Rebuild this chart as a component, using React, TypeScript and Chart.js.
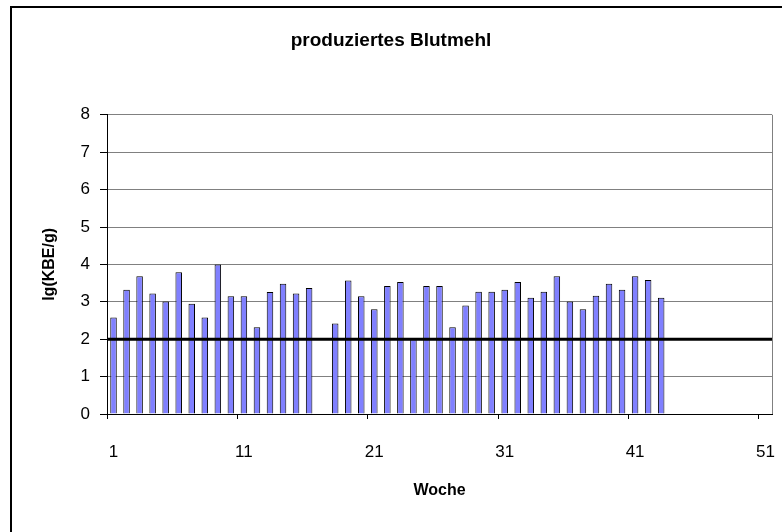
import React, { useEffect, useRef } from "react";
import { Chart, registerables } from "chart.js";

Chart.register(...registerables);

const weeks: string[] = Array.from({ length: 51 }, (_, i) => String(i + 1));

const cfuValues: (number | null)[] = [
  2.58, 3.32, 3.68, 3.22, 3.01, 3.79, 2.95, 2.58, 4.0, 3.15,
  3.15, 2.32, 3.26, 3.48, 3.22, 3.37, null, 2.42, 3.57, 3.15,
  2.8, 3.42, 3.53, 2.0, 3.42, 3.42, 2.32, 2.9, 3.27, 3.27,
  3.32, 3.53, 3.11, 3.27, 3.68, 3.01, 2.8, 3.16, 3.48, 3.32,
  3.68, 3.58, 3.11,
];

const limitValue = 2;
const limitPoints = weeks.map((w) => ({ x: Number(w), y: limitValue }));

const yTicks = [0, 1, 2, 3, 4, 5, 6, 7, 8];

const FONT = "'Liberation Sans', Arial, sans-serif";

const framePlugin = {
  id: "frame",
  beforeDraw(chart: any) {
    const { ctx } = chart;
    ctx.save();
    ctx.strokeStyle = "#000";
    ctx.lineWidth = 2;
    ctx.strokeRect(11, 7, 900, 700);
    ctx.restore();
  },
  afterDatasetsDraw(chart: any) {
    const { ctx, chartArea } = chart;
    ctx.save();
    ctx.strokeStyle = "#808080";
    ctx.lineWidth = 1;
    ctx.beginPath();
    ctx.moveTo(Math.round(chartArea.right) + 0.5, chartArea.top);
    ctx.lineTo(Math.round(chartArea.right) + 0.5, chartArea.bottom);
    ctx.stroke();
    ctx.restore();
  },
};

export default function App() {
  const ref = useRef<HTMLCanvasElement | null>(null);

  useEffect(() => {
    if (!ref.current) return;
    const chart = new Chart(ref.current, {
      type: "bar",
      data: {
        labels: weeks,
        datasets: [
          {
            type: "bar",
            data: cfuValues,
            backgroundColor: "#8080ff",
            borderColor: "#000000",
            borderWidth: 1,
            barPercentage: 0.5,
            categoryPercentage: 1,
            grouped: false,
            xAxisID: "x",
            order: 2,
          },
          {
            type: "line",
            data: limitPoints as any,
            borderColor: "#000000",
            borderWidth: 3,
            pointRadius: 0,
            xAxisID: "x2",
            order: 1,
          } as any,
        ],
      },
      options: {
        animation: false,
        responsive: false,
        devicePixelRatio: 1,
        layout: { padding: { left: 0, right: 0, top: 0, bottom: 0 } },
        plugins: {
          legend: { display: false },
          tooltip: { enabled: false },
          title: {
            display: true,
            text: "produziertes Blutmehl",
            color: "#000",
            font: { family: FONT, size: 19, weight: "bold" },
            padding: { top: 29, bottom: 63 },
          },
        },
        scales: {
          x: {
            type: "category",
            offset: true,
            afterFit: (s: any) => {
              s.height = 118;
              s.paddingLeft = 0;
              s.paddingRight = 10;
            },
            grid: {
              offset: true,
              drawOnChartArea: false,
              tickLength: 5,
              tickColor: (c: any) => (c.index % 10 === 0 ? "#000" : "rgba(0,0,0,0)"),
            },
            border: { color: "#000", width: 1 },
            ticks: {
              autoSkip: false,
              maxRotation: 0,
              color: "#000",
              padding: 23,
              font: { family: FONT, size: 17 },
              callback: (_v: any, i: number) => (i % 10 === 0 ? weeks[i] : ""),
            },
            title: {
              display: true,
              text: "Woche",
              color: "#000",
              font: { family: FONT, size: 16, weight: "bold" },
              padding: { top: 10, bottom: 32 },
            },
          },
          x2: {
            type: "linear",
            display: false,
            min: Number(weeks[0]),
            max: Number(weeks[weeks.length - 1]),
            offset: false,
          },
          y: {
            min: yTicks[0],
            max: yTicks[yTicks.length - 1],
            afterBuildTicks: (s: any) => {
              s.ticks = yTicks.map((v) => ({ value: v }));
            },
            afterFit: (s: any) => {
              s.width = 107;
            },
            grid: { color: "#808080", tickColor: "#000", tickLength: 7 },
            border: { color: "#000", width: 1 },
            ticks: {
              color: "#000",
              padding: 10,
              font: { family: FONT, size: 17 },
            },
            title: {
              display: true,
              text: "lg(KBE/g)",
              color: "#000",
              font: { family: FONT, size: 16, weight: "bold" },
              padding: { top: 40, bottom: 4 },
            },
          },
        },
      },
      plugins: [framePlugin],
    });
    return () => chart.destroy();
  }, []);

  return (
    <div style={{ position: "absolute", left: 0, top: 0, width: 782, height: 532, background: "#fff" }}>
      <canvas ref={ref} width={782} height={532} style={{ display: "block" }} />
    </div>
  );
}
